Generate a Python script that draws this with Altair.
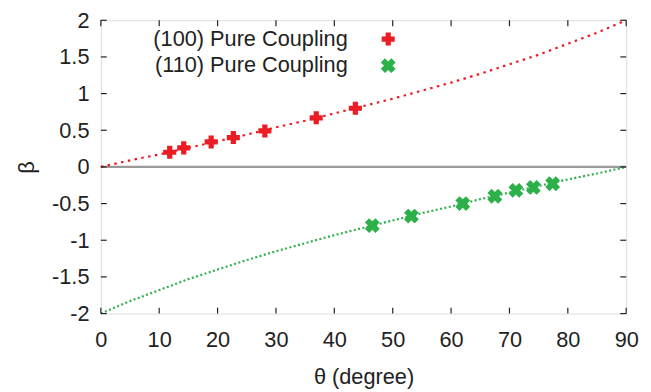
import altair as alt
import pandas as pd

# data
red_theta = [11.8, 14.2, 18.9, 22.7, 28.1, 36.9, 43.6]
red_beta = [0.20, 0.26, 0.34, 0.40, 0.49, 0.67, 0.80]
green_theta = [46.5, 53.2, 62.0, 67.5, 71.1, 74.1, 77.4]
green_beta = [-0.80, -0.67, -0.50, -0.40, -0.32, -0.28, -0.23]

curve_theta = [0, 5, 10, 15, 20, 25, 30, 35, 40, 45, 50, 55, 60, 65, 70, 75, 80, 85, 90]
red_curve = [0, 0.09, 0.17, 0.26, 0.35, 0.44, 0.54, 0.63, 0.73, 0.83, 0.93, 1.04, 1.15, 1.27, 1.40, 1.53, 1.68, 1.83, 2.0]
green_curve = [-2.0, -1.83, -1.68, -1.53, -1.40, -1.27, -1.15, -1.04, -0.93, -0.83, -0.73, -0.63, -0.54, -0.44, -0.35, -0.26, -0.17, -0.09, 0]

x_ticks = [0, 10, 20, 30, 40, 50, 60, 70, 80, 90]
y_ticks = [-2, -1.5, -1, -0.5, 0, 0.5, 1, 1.5, 2]

legend_labels = ["(100) Pure Coupling", "(110) Pure Coupling"]

RED = "#ec1c24"
GREEN = "#2bb04a"
FONT = "Liberation Sans"
W, H = 532, 297

xs = alt.Scale(domain=[0, 90], nice=False, zero=False)
ys = alt.Scale(domain=[-2, 2], nice=False, zero=False)

curve_df = pd.DataFrame({"theta": curve_theta, "red": red_curve, "green": green_curve})
red_df = pd.DataFrame({"theta": red_theta, "beta": red_beta})
green_df = pd.DataFrame({"theta": green_theta, "beta": green_beta})
xt_df = pd.DataFrame({"v": x_ticks})
yt_df = pd.DataFrame({"v": y_ticks})

xaxis = alt.Axis(values=x_ticks, title="θ (degree)", tickSize=0, labelPadding=16,
                 titlePadding=17, grid=False, domain=False, labelFontSize=22,
                 titleFontSize=22, labelFont=FONT, titleFont=FONT,
                 labelColor="#222", titleColor="#222", titleFontWeight="normal",
                 labelFlush=False, labelOverlap=False, labelExpr="'' + datum.value")
yaxis = alt.Axis(values=y_ticks, title="β", tickSize=0, labelPadding=12,
                 titlePadding=13, grid=False, domain=False, labelFontSize=22,
                 titleFontSize=22, labelFont=FONT, titleFont=FONT,
                 labelColor="#222", titleColor="#222", titleFontWeight="normal",
                 labelFlush=False, labelOverlap=False, labelExpr="'' + datum.value")


def X(f):
    return alt.X(f, scale=xs, axis=xaxis)


def Y(f):
    return alt.Y(f, scale=ys, axis=yaxis)


zero = alt.Chart(pd.DataFrame({"y": [0]})).mark_rule(color="#9a9a9a", strokeWidth=2.2).encode(
    y=Y("y:Q"), x=alt.value(0), x2=alt.value(W))

base_curve = alt.Chart(curve_df)
red_line = base_curve.mark_line(color=RED, strokeWidth=2.2, strokeDash=[2.5, 4.5]).encode(
    x=X("theta:Q"), y=Y("red:Q"))
green_line = base_curve.mark_line(color=GREEN, strokeWidth=2.2, strokeDash=[2, 2.5]).encode(
    x=X("theta:Q"), y=Y("green:Q"))

red_pts = alt.Chart(red_df).mark_point(shape="cross", filled=True, size=175, color=RED, opacity=1).encode(
    x=X("theta:Q"), y=Y("beta:Q"))
green_pts = alt.Chart(green_df).mark_point(shape="cross", angle=45, filled=True, size=230, color=GREEN, opacity=1).encode(
    x=X("theta:Q"), y=Y("beta:Q"))

# inward ticks on all four sides
tb = alt.Chart(xt_df).mark_rule(color="#222", strokeWidth=1.2).encode(
    x=X("v:Q"), y=alt.value(H), y2=alt.value(H - 6))
tt = alt.Chart(xt_df).mark_rule(color="#222", strokeWidth=1.2).encode(
    x=X("v:Q"), y=alt.value(0), y2=alt.value(6))
tl = alt.Chart(yt_df).mark_rule(color="#222", strokeWidth=1.2).encode(
    y=Y("v:Q"), x=alt.value(0), x2=alt.value(6))
tr = alt.Chart(yt_df).mark_rule(color="#222", strokeWidth=1.2).encode(
    y=Y("v:Q"), x=alt.value(W), x2=alt.value(W - 6))

# legend
leg1_t = alt.Chart(pd.DataFrame({"t": [legend_labels[0]]})).mark_text(
    align="right", baseline="middle", fontSize=22, font=FONT, color="#222").encode(
    text="t:N", x=alt.value(250), y=alt.value(19))
leg2_t = alt.Chart(pd.DataFrame({"t": [legend_labels[1]]})).mark_text(
    align="right", baseline="middle", fontSize=22, font=FONT, color="#222").encode(
    text="t:N", x=alt.value(250), y=alt.value(45))
leg1_p = alt.Chart(pd.DataFrame({"t": [legend_labels[0]]})).mark_point(
    shape="cross", filled=True, size=175, color=RED, opacity=1).encode(
    x=alt.value(291), y=alt.value(19))
leg2_p = alt.Chart(pd.DataFrame({"t": [legend_labels[1]]})).mark_point(
    shape="cross", angle=45, filled=True, size=230, color=GREEN, opacity=1).encode(
    x=alt.value(291), y=alt.value(46))

chart = alt.layer(zero, green_line, red_line, red_pts, green_pts, tb, tt, tl, tr,
                  leg1_t, leg2_t, leg1_p, leg2_p).properties(
    width=W, height=H,
    autosize=alt.AutoSizeParams(type="none"),
    padding={"left": 94, "top": 10, "right": 17, "bottom": 77},
).configure_view(stroke="#222", strokeWidth=1.5).configure(background="white")

chart.save("out.html", embed_options={"renderer": "svg", "actions": False})
